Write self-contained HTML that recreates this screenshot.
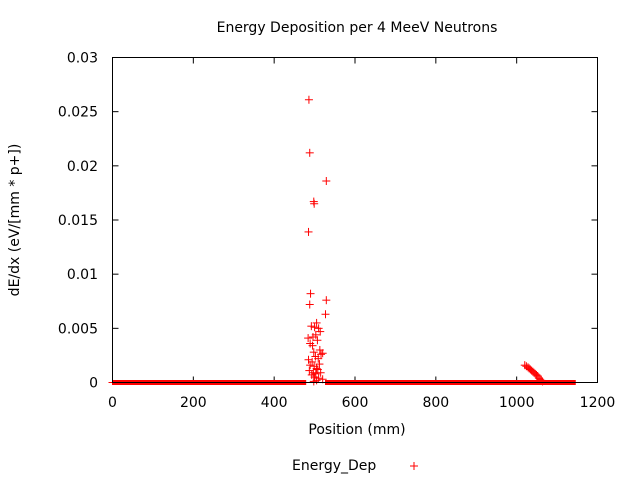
<!DOCTYPE html>
<html><head><meta charset="utf-8"><style>
body{margin:0;background:#fff}
svg text{font-family:"DejaVu Sans","Liberation Sans",sans-serif;font-size:14px;fill:#000}
</style></head><body>
<svg id="chart" width="640" height="480" xmlns="http://www.w3.org/2000/svg">
<text x="357" y="32" text-anchor="middle">Energy Deposition per 4 MeeV Neutrons</text>
<text x="357" y="434" text-anchor="middle">Position (mm)</text>
<text transform="translate(19,220) rotate(-90)" text-anchor="middle">dE/dx (eV/[mm * p+])</text>
<g id="axes"></g>
<g id="marks"></g>
<rect x="112.5" y="57.5" width="485" height="325" fill="none" stroke="#000" stroke-width="1"/>
<text x="292" y="470">Energy_Dep</text>
<g stroke="#f00" stroke-width="1"><line x1="410" y1="466" x2="418" y2="466"/><line x1="414" y1="462" x2="414" y2="470"/></g>
</svg>
<script>
const xTicks=[0,200,400,600,800,1000,1200];
const yTicks=[0,0.005,0.01,0.015,0.02,0.025,0.03];
const yTickLabels=["0","0.005","0.01","0.015","0.02","0.025","0.03"];
const baselineRanges=[[0,478],[527,1145]];
const peakX=[486,488,529,498,499,485,490,488,529,527,505,510,514,503,496,492,500,507,484,489,495,513,520,498,502,485,494,509,516,489,499,505,512,487,497,503,493,500,508,515,520,510,505,498];
const peakY=[0.0261,0.0212,0.0186,0.0167,0.0165,0.0139,0.0082,0.0072,0.0076,0.0063,0.0055,0.0050,0.0047,0.0044,0.0042,0.0052,0.0051,0.0039,0.0041,0.0036,0.0034,0.0030,0.0027,0.0028,0.0024,0.0021,0.0019,0.0022,0.0026,0.0016,0.0015,0.0013,0.0017,0.0011,0.0009,0.0008,0.0007,0.0005,0.0012,0.0009,0.0003,0.0004,0.0002,0.0001];
const tailX=[1020,1024,1028,1031,1034,1037,1040,1043,1046,1049,1052,1055,1058,1061,1064];
const tailY=[0.0016,0.0015,0.0014,0.0013,0.0012,0.0011,0.0010,0.0009,0.0008,0.0007,0.0006,0.0004,0.0003,0.0002,0.0001];
const X0=112.5,X1=597.5,Y0=382.5,Y1=57.5;
const sx=v=>X0+(v/1200)*(X1-X0);
const sy=v=>Y0-(v/0.03)*(Y0-Y1);
const NS="http://www.w3.org/2000/svg";
const axes=document.getElementById('axes'),marks=document.getElementById('marks');
function mk(tag,attrs,parent){const e=document.createElementNS(NS,tag);for(const k in attrs)e.setAttribute(k,attrs[k]);parent.appendChild(e);return e;}
const zl=mk('line',{x1:X0,x2:X1,y1:sy(0),y2:sy(0),stroke:'#000'},axes);


xTicks.forEach(t=>{const x=sx(t);
 mk('line',{x1:x,x2:x,y1:Y0,y2:Y0-6,stroke:'#000'},axes);
 mk('line',{x1:x,x2:x,y1:Y1,y2:Y1+6,stroke:'#000'},axes);
 const tx=mk('text',{x:x,y:407,'text-anchor':'middle'},axes);tx.textContent=t;
 
 
});
yTicks.forEach((t,i)=>{const y=sy(t);
 mk('line',{x1:X0,x2:X0+6,y1:y,y2:y,stroke:'#000'},axes);
 mk('line',{x1:X1,x2:X1-6,y1:y,y2:y,stroke:'#000'},axes);
 const tx=mk('text',{x:98,y:y+5,'text-anchor':'end'},axes);tx.textContent=yTickLabels[i];
 
 
});
function plus(xv,yv,name,h){const g=mk('g',{stroke:'#f00','stroke-width':1},marks);
 
 
 const x=sx(xv),y=sy(yv);
 mk('line',{x1:x-4,x2:x+4,y1:y,y2:y},g);mk('line',{x1:x,x2:x,y1:y-h,y2:y+h},g);}
baselineRanges.forEach(r=>{for(let v=r[0];v<=r[1];v+=1)plus(v,0,'baseline-point',2.5);});
peakX.forEach((v,i)=>plus(v,peakY[i],'peak-point',4));
tailX.forEach((v,i)=>plus(v,tailY[i],'tail-point',4));
</script>
</body></html>
